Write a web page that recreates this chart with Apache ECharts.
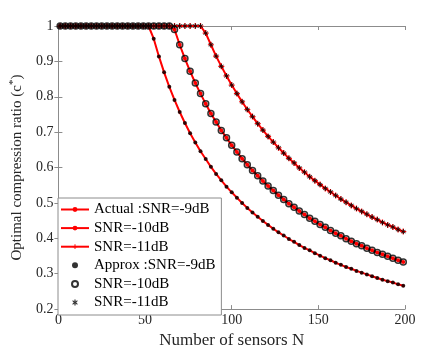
<!DOCTYPE html>
<html><head><meta charset="utf-8">
<script src="https://cdn.jsdelivr.net/npm/echarts@6/dist/echarts.min.js"></script>
<style>html,body{margin:0;padding:0;background:#fff}#c{width:448px;height:354px}</style>
</head><body><div id="c"></div>
<script>
var sensorsN = [1,4,7,10,13,16,19,22,25,28,31,34,37,40,43,46,49,52,55,58,61,64,67,70,73,76,79,82,85,88,91,94,97,100,103,106,109,112,115,118,121,124,127,130,133,136,139,142,145,148,151,154,157,160,163,166,169,172,175,178,181,184,187,190,193,196,199];
var snr9 = [1,1,1,1,1,1,1,1,1,1,1,1,1,1,1,1,1,1,0.964,0.914,0.869,0.828,0.791,0.757,0.726,0.697,0.671,0.646,0.624,0.602,0.582,0.564,0.546,0.530,0.515,0.500,0.486,0.473,0.461,0.449,0.438,0.427,0.417,0.408,0.398,0.390,0.381,0.373,0.366,0.358,0.351,0.344,0.338,0.331,0.325,0.319,0.314,0.308,0.303,0.298,0.293,0.288,0.283,0.279,0.275,0.270,0.266];
var snr10 = [1,1,1,1,1,1,1,1,1,1,1,1,1,1,1,1,1,1,1,1,1,1,0.990,0.947,0.908,0.872,0.839,0.809,0.780,0.753,0.729,0.705,0.684,0.663,0.644,0.625,0.608,0.592,0.577,0.562,0.548,0.535,0.522,0.510,0.498,0.488,0.477,0.467,0.457,0.448,0.439,0.431,0.422,0.414,0.407,0.399,0.392,0.385,0.379,0.372,0.366,0.360,0.355,0.349,0.344,0.338,0.333];
var snr11 = [1,1,1,1,1,1,1,1,1,1,1,1,1,1,1,1,1,1,1,1,1,1,1,1,1,1,1,1,0.980,0.947,0.915,0.886,0.859,0.833,0.809,0.786,0.764,0.744,0.724,0.706,0.688,0.672,0.656,0.641,0.626,0.613,0.599,0.587,0.574,0.563,0.552,0.541,0.531,0.521,0.511,0.502,0.493,0.484,0.476,0.468,0.460,0.453,0.445,0.438,0.432,0.425,0.419];
var xTicks = [0,50,100,150,200];
var yTicks = [0.2,0.3,0.4,0.5,0.6,0.7,0.8,0.9,1];
var names = ['Actual :SNR=-9dB','SNR=-10dB','SNR=-11dB','Approx :SNR=-9dB','SNR=-10dB ','SNR=-11dB '];

function pairs(ys){ return sensorsN.map(function(n,i){return [n, ys[i]];}); }
var FONT = 'Liberation Serif';
var plusPath = 'path://M4,0H6V4H10V6H6V10H4V6H0V4H4Z';
var starPath = 'path://M4,0H6V3.3L8.5,1.2L9.6,2.4L7,5L9.6,7.6L8.5,8.8L6,6.7V10H4V6.7L1.5,8.8L0.4,7.6L3,5L0.4,2.4L1.5,1.2L4,3.3Z';

function actual(name, ys, sym, size){
  return {name:name, type:'line', data:pairs(ys), symbol:sym, symbolSize:size, showSymbol:true,
    lineStyle:{color:'#ff0000', width:2}, itemStyle:{color:'#ff0000', borderWidth:0}, z:2, animation:false};
}
var series = [
  actual(names[0], snr9, 'circle', 3),
  actual(names[1], snr10, 'circle', 4),
  actual(names[2], snr11, plusPath, 6),
  {name:names[3], type:'scatter', data:pairs(snr9), symbol:'circle', symbolSize:4,
    itemStyle:{color:'#000'}, z:3, animation:false},
  {name:names[4], type:'scatter', data:pairs(snr10), symbol:'circle', symbolSize:6,
    itemStyle:{color:'rgba(0,0,0,0)', borderColor:'#000', borderWidth:1.5}, z:3, animation:false},
  {name:names[5], type:'scatter', data:pairs(snr11), symbol:starPath, symbolSize:5,
    itemStyle:{color:'#000'}, z:3, animation:false}
];

var axisLineC = '#8c8c8c';
var labelC = '#262626';
var chart = echarts.init(document.getElementById('c'), null, {renderer:'canvas'});
chart.setOption({
  backgroundColor:'#ffffff',
  animation:false,
  grid:{left:58, right:43, top:26, bottom:39},
  xAxis:[{type:'value', min:xTicks[0], max:xTicks[xTicks.length-1], interval:50,
    name:'Number of sensors N', nameLocation:'middle', nameGap:20,
    nameTextStyle:{fontFamily:FONT, fontSize:17, color:labelC},
    axisLine:{lineStyle:{color:axisLineC}}, axisTick:{inside:true, length:4, lineStyle:{color:axisLineC}},
    axisLabel:{fontFamily:FONT, fontSize:14, color:labelC, margin:4},
    splitLine:{show:false}},
    {type:'value', position:'top', min:0, max:200, interval:50,
    axisLine:{show:true, lineStyle:{color:axisLineC}}, axisTick:{inside:true, length:4, lineStyle:{color:axisLineC}},
    axisLabel:{show:false}, splitLine:{show:false}}],
  yAxis:[{type:'value', min:yTicks[0], max:yTicks[yTicks.length-1], interval:0.1,
    name:'Optimal compression ratio (c{sup|*})', nameLocation:'middle', nameGap:24,
    nameTextStyle:{fontFamily:FONT, fontSize:15, color:labelC, rich:{sup:{fontFamily:FONT, fontSize:11, verticalAlign:'top', padding:[0,0,8,0], color:labelC}}},
    axisLine:{show:true, lineStyle:{color:axisLineC}}, axisTick:{show:true, inside:true, length:4, lineStyle:{color:axisLineC}},
    axisLabel:{fontFamily:FONT, fontSize:14, color:labelC, margin:5, formatter:function(v){return (Math.round(v*10)/10).toString();}},
    splitLine:{show:false}},
    {type:'value', position:'right', min:0.2, max:1, interval:0.1,
    axisLine:{show:true, lineStyle:{color:axisLineC}}, axisTick:{show:true, inside:true, length:4, lineStyle:{color:axisLineC}},
    axisLabel:{show:false}, splitLine:{show:false}}],
  legend:{orient:'vertical', left:58, top:198, data:names,
    backgroundColor:'#ffffff', borderColor:'#8c8c8c', borderWidth:1, padding:[4,6,5,2],
    itemWidth:28, itemHeight:6, itemGap:3.6,
    textStyle:{fontFamily:FONT, fontSize:15, color:'#000'}},
  series:series
});
</script></body></html>
